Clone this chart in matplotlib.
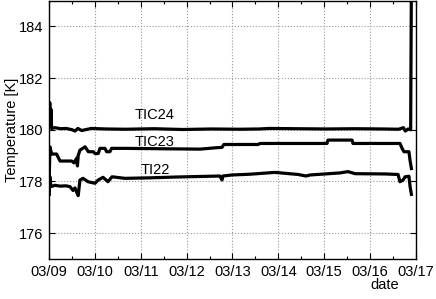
# Temperaturas TIC24 / TIC23 / TI22 durante una semana

import pandas as pd
import matplotlib.pyplot as plt
import matplotlib.dates as mdates

plt.rcParams['font.family'] = ['Liberation Sans', 'DejaVu Sans']

# Datos (horas desde 03/09 00:00, temperatura en K)

inicio = pd.Timestamp('2012-03-09 00:00')

h_tic24 = [0.0, 0.3, 0.6, 0.9, 1.3, 3.0, 6.0, 9.0, 12.0, 13.5, 15.0, 17.0, 22.0,
           30.0, 40.0, 55.0, 70.0, 85.0, 100.0, 110.0, 115.0, 130.0, 145.0,
           160.0, 175.0, 183.0, 185.5, 186.5, 188.0, 189.3, 189.7]
t_tic24 = [180.3, 181.05, 180.2, 180.8, 180.05, 180.08, 180.04, 180.05, 180.0,
           179.95, 180.05, 179.97, 180.05, 180.03, 180.02, 180.04, 180.01,
           180.03, 180.02, 180.03, 180.05, 180.04, 180.03, 180.04, 180.03,
           180.02, 180.08, 179.95, 180.03, 180.0, 186.0]

h_tic23 = [0.05, 0.4, 1.3, 3.9, 4.6, 5.7, 11.8, 13.0, 14.4, 14.8, 15.2, 16.1,
           18.8, 20.5, 23.1, 24.0, 25.7, 26.6, 29.2, 30.1, 31.8, 32.7, 39.7,
           52.8, 79.0, 86.8, 90.5, 91.5, 109.4, 110.4, 145.5, 146.0, 158.6,
           159.1, 183.7, 184.8, 185.8, 188.4, 189.0, 189.7]
t_tic23 = [178.2, 179.34, 179.06, 179.06, 178.95, 178.79, 178.79, 178.72,
           178.9, 178.6, 179.0, 179.21, 179.34, 179.15, 179.15, 179.08, 179.08,
           179.28, 179.28, 179.15, 179.15, 179.28, 179.28, 179.27, 179.25,
           179.3, 179.32, 179.43, 179.43, 179.47, 179.47, 179.6, 179.6, 179.47,
           179.47, 179.28, 179.15, 179.15, 178.8, 178.5]

h_ti22 = [0.05, 0.3, 0.9, 3.0, 5.7, 8.8, 10.9, 12.5, 13.5, 14.6, 15.2, 16.1,
          17.7, 20.3, 24.0, 25.6, 28.2, 30.8, 32.9, 39.7, 52.8, 65.9, 89.4,
          90.5, 91.0, 95.7, 105.2, 118.2, 130.3, 134.5, 136.6, 152.3, 156.5,
          160.2, 175.9, 182.7, 183.7, 185.3, 186.4, 188.4, 189.0, 189.7]
t_ti22 = [177.5, 178.2, 177.8, 177.85, 177.82, 177.83, 177.8, 177.65, 177.75,
          177.55, 177.45, 178.05, 178.12, 177.99, 177.93, 178.05, 178.16,
          177.99, 178.18, 178.12, 178.14, 178.17, 178.21, 178.06, 178.21,
          178.25, 178.28, 178.35, 178.27, 178.21, 178.25, 178.33, 178.38,
          178.3, 178.29, 178.27, 177.99, 178.05, 178.18, 178.2, 177.8, 177.5]

series = [(h_tic24, t_tic24), (h_tic23, t_tic23), (h_ti22, t_ti22)]

etiquetas = ['TIC24', 'TIC23', 'TI22']
pos_etiquetas = [(55.4, 180.56), (55.4, 179.52), (55.6, 178.44)]

# Grafica

fig = plt.figure(figsize=(4.36, 2.99), dpi=100)
ax = fig.add_axes([0.1128, 0.1338, 0.8409, 0.8645])

for h, t in series:
    x = inicio + pd.to_timedelta(h, unit='h')
    ax.plot(x, t, color='black', lw=2.3)

for texto, (h, t) in zip(etiquetas, pos_etiquetas):
    ax.text(inicio + pd.Timedelta(hours=h), t, texto, fontsize=10.5,
            ha='center', va='center')

ax.set_xlim(inicio, inicio + pd.Timedelta(days=8))
ax.set_ylim(175, 185)
ax.set_yticks([176, 178, 180, 182, 184])

ax.xaxis.set_major_locator(mdates.DayLocator())
ax.xaxis.set_minor_locator(mdates.HourLocator(byhour=[12]))
ax.xaxis.set_major_formatter(mdates.DateFormatter('%m/%d'))

ax.tick_params(which='both', direction='in', top=True, right=True,
               labelsize=10.5, width=0.8)
ax.tick_params(which='major', length=4, pad=4)
ax.tick_params(which='minor', length=2.5)

ax.grid(True, which='major', linestyle=':', color='#999999', lw=0.8)
for s in ax.spines.values():
    s.set_linewidth(1.0)

ax.set_ylabel('Temperature [K]', fontsize=10.5, labelpad=0)
fig.text(385 / 436, 1 - 285 / 299, 'date', fontsize=10.5,
         ha='center', va='center')

fig.savefig('out.png', dpi=100)
